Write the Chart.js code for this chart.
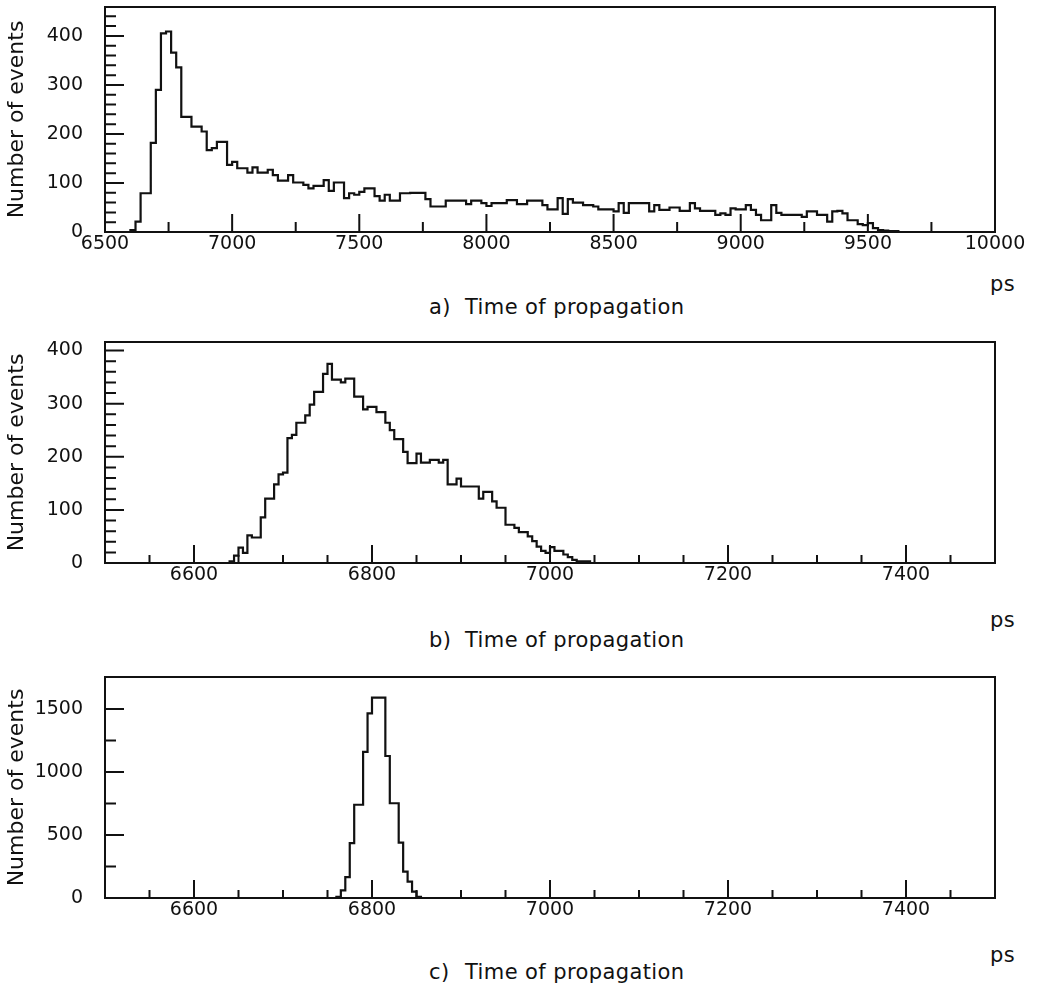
<!DOCTYPE html>
<html>
<head>
<meta charset="utf-8">
<script src="https://cdn.jsdelivr.net/npm/chart.js@4.4.0/dist/chart.umd.min.js"></script>
<style>
  body { margin: 0; background: #fff; }
  #page { position: relative; width: 1040px; height: 991px; font-family: "DejaVu Sans", sans-serif; color: #111; }
  .panel { position: absolute; left: 0; width: 1040px; height: 262px; }
  .cap { position: absolute; font-size: 21px; white-space: pre; line-height: 24px; letter-spacing: 0.4px; }
</style>
</head>
<body>
<div id="page">
  <div class="panel" style="top:0"><canvas id="chartA"></canvas></div>
  <div class="panel" style="top:330px"><canvas id="chartB"></canvas></div>
  <div class="panel" style="top:665px"><canvas id="chartC"></canvas></div>

  <div class="cap" style="left:990px;top:272px">ps</div>
  <div class="cap" style="left:429px;top:295px">a)</div>
  <div class="cap" style="left:465px;top:295px">Time of propagation</div>

  <div class="cap" style="left:990px;top:608px">ps</div>
  <div class="cap" style="left:429px;top:628px">b)</div>
  <div class="cap" style="left:465px;top:628px">Time of propagation</div>

  <div class="cap" style="left:990px;top:943px">ps</div>
  <div class="cap" style="left:429px;top:960px">c)</div>
  <div class="cap" style="left:465px;top:960px">Time of propagation</div>
</div>

<script>
// histogram a) : 20 ps bins starting at 6600 ps
const startA = 6600;
const widthA = 20;
const countsA = [
  4, 4, 21, 79, 79, 182, 290, 405, 409, 366,
  336, 235, 235, 215, 215, 205, 167, 171, 184, 184,
  137, 143, 130, 130, 121, 132, 121, 121, 127, 116,
  105, 105, 116, 101, 101, 96, 89, 94, 94, 106,
  84, 101, 101, 69, 79, 76, 82, 89, 89, 73,
  64, 76, 64, 64, 79, 79, 80, 80, 80, 67,
  52, 52, 52, 64, 64, 64, 64, 57, 64, 64,
  59, 53, 59, 59, 59, 65, 65, 57, 57, 64,
  64, 64, 55, 46, 46, 69, 37, 67, 60, 60,
  55, 55, 52, 46, 46, 46, 42, 59, 39, 59,
  59, 59, 59, 42, 55, 45, 45, 50, 50, 43,
  43, 59, 48, 43, 43, 43, 35, 38, 35, 48,
  46, 46, 55, 45, 35, 24, 24, 55, 39, 35,
  35, 35, 35, 31, 42, 42, 35, 35, 21, 42,
  43, 38, 24, 24, 16, 14, 18, 8, 4, 3,
  2, 2
];

// histogram b) : 5 ps bins starting at 6640 ps
const startB = 6640;
const widthB = 5;
const countsB = [
  3, 3, 14, 29, 19, 52, 48, 48, 86, 121,
  121, 148, 167, 170, 235, 241, 264, 264, 278, 298,
  322, 322, 356, 375, 345, 345, 340, 347, 347, 313,
  313, 289, 294, 294, 284, 284, 264, 250, 233, 233,
  209, 188, 188, 206, 189, 189, 194, 194, 189, 194,
  148, 148, 159, 144, 144, 144, 144, 121, 134, 134,
  116, 104, 104, 72, 72, 66, 58, 58, 50, 41,
  31, 23, 19, 30, 23, 23, 16, 11, 6, 3,
  3, 3
];

// histogram c) : 5 ps bins starting at 6760 ps
const startC = 6760;
const widthC = 5;
const countsC = [8, 10, 60, 165, 435, 740, 740, 1160, 1465, 1590, 1590, 1590, 1127, 752, 752, 440, 210, 130, 50, 10];

// axes
const xLabelsA = [6500, 7000, 7500, 8000, 8500, 9000, 9500, 10000];
const xMinorA = [6750, 7250, 7750, 8250, 8750, 9250, 9750];
const yLabelsA = [0, 100, 200, 300, 400];
const xLabelsBC = [6600, 6800, 7000, 7200, 7400];
const xMinorBC = [6550, 6650, 6700, 6750, 6850, 6900, 6950, 7050, 7100, 7150, 7250, 7300, 7350, 7450];
const yLabelsB = [0, 100, 200, 300, 400];
const yLabelsC = [0, 500, 1000, 1500];
const yMinorAB = [20, 40, 60, 80, 120, 140, 160, 180, 220, 240, 260, 280, 320, 340, 360, 380, 420, 440];
const yMinorC = [250, 750, 1250];

const INK = '#111';
const FONT = 'DejaVu Sans';

function stepPoints(start, width, counts) {
  const pts = [{x: start, y: 0}];
  counts.forEach((c, i) => pts.push({x: start + i * width, y: c}));
  pts.push({x: start + counts.length * width, y: 0});
  return pts;
}

// frame round the plot, ticks pointing inwards like the original
const framePlugin = {
  id: 'frame',
  afterDraw(chart, args, o) {
    const {ctx, chartArea: a, scales: {x, y}} = chart;
    ctx.save();
    ctx.strokeStyle = INK;
    ctx.lineWidth = 2;
    ctx.strokeRect(a.left, a.top, a.right - a.left, a.bottom - a.top);
    ctx.beginPath();
    const xt = (vals, len) => vals.forEach(v => {
      const p = x.getPixelForValue(v);
      ctx.moveTo(p, a.bottom); ctx.lineTo(p, a.bottom - len);
    });
    const yt = (vals, len) => vals.forEach(v => {
      const p = y.getPixelForValue(v);
      ctx.moveTo(a.left, p); ctx.lineTo(a.left + len, p);
    });
    xt(o.xMajor, o.xMajorLen);
    xt(o.xMinor, o.xMinorLen);
    yt(o.yMajor, o.yMajorLen);
    yt(o.yMinor, o.yMinorLen);
    ctx.stroke();
    ctx.restore();
  }
};

function makeChart(id, c) {
  return new Chart(document.getElementById(id), {
    type: 'line',
    data: {
      datasets: [{
        data: stepPoints(c.start, c.width, c.counts),
        stepped: 'after',
        borderColor: INK,
        borderWidth: 2.2,
        pointRadius: 0,
        fill: false
      }]
    },
    options: {
      responsive: true,
      maintainAspectRatio: false,
      animation: false,
      layout: { padding: { top: c.padTop, right: 45, left: 0, bottom: 0 } },
      plugins: {
        legend: { display: false },
        tooltip: { enabled: false },
        frame: {
          xMajor: c.xLabels, xMinor: c.xMinor, xMajorLen: 18, xMinorLen: c.xMinorLen,
          yMajor: c.yLabels, yMinor: c.yMinor, yMajorLen: 19, yMinorLen: 11
        }
      },
      scales: {
        x: {
          type: 'linear',
          min: c.xMin, max: c.xMax,
          grid: { display: false, drawTicks: false },
          border: { display: false },
          ticks: { color: INK, font: { family: FONT, size: 19 }, padding: 1, maxRotation: 0, autoSkip: false,
                   callback: v => String(v) },
          afterBuildTicks: s => { s.ticks = c.xLabels.map(v => ({value: v})); },
          afterFit: s => { s.height = c.xAxisH; s.paddingLeft = 0; s.paddingRight = 0; }
        },
        y: {
          min: 0, max: c.yMax,
          grid: { display: false, drawTicks: false },
          border: { display: false },
          ticks: { color: INK, font: { family: FONT, size: 19 }, padding: 22, callback: v => String(v) },
          title: { display: true, text: 'Number of events', color: INK, font: { family: FONT, size: 22 }, padding: { top: 4, bottom: 0 } },
          afterBuildTicks: s => { s.ticks = c.yLabels.map(v => ({value: v})); },
          afterFit: s => { s.width = 105; s.paddingTop = 0; s.paddingBottom = 0; }
        }
      }
    },
    plugins: [framePlugin]
  });
}

makeChart('chartA', { start: startA, width: widthA, counts: countsA, xMin: 6500, xMax: 10000, yMax: 459,
  xLabels: xLabelsA, xMinor: xMinorA, yLabels: yLabelsA, yMinor: yMinorAB, padTop: 7, xAxisH: 30, xMinorLen: 10 });
makeChart('chartB', { start: startB, width: widthB, counts: countsB, xMin: 6500, xMax: 7500, yMax: 416,
  xLabels: xLabelsBC, xMinor: xMinorBC, yLabels: yLabelsB, yMinor: yMinorAB.filter(v => v < 416), padTop: 12, xAxisH: 29, xMinorLen: 8 });
makeChart('chartC', { start: startC, width: widthC, counts: countsC, xMin: 6500, xMax: 7500, yMax: 1754,
  xLabels: xLabelsBC, xMinor: xMinorBC, yLabels: yLabelsC, yMinor: yMinorC, padTop: 12, xAxisH: 29, xMinorLen: 8 });
</script>
</body>
</html>
